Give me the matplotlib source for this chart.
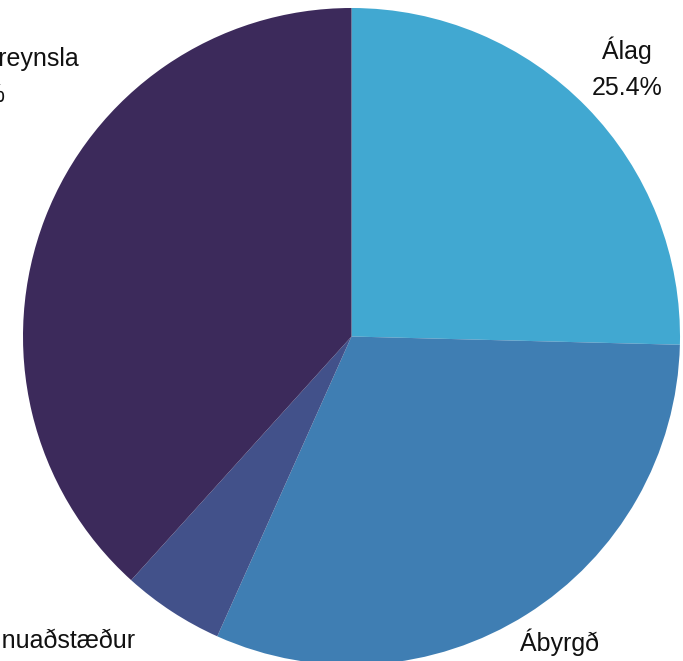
import matplotlib
matplotlib.use("Agg")
import matplotlib.pyplot as plt

# Data
categories = ["Álag", "Ábyrgð", "Vinnuaðstæður", "Menntun og reynsla"]
values = [25.4, 31.3, 5.0, 38.3]
colors = ["#41A8D1", "#3F7EB3", "#42518A", "#3C2A5B"]

# Layout (pixels)
W, H = 683, 661
cx, cy = 351.5, 336.5   # pie centre (from top-left)
R = 328.5               # radius
label_anchor_px = [(627, 59), (559, 651), (51, 648), (-31, 66)]
line_gap_px = 36

plt.rcParams['font.family'] = ['Liberation Sans', 'DejaVu Sans']

fig = plt.figure(figsize=(W / 100, H / 100), dpi=100)
ax = fig.add_axes([0, 0, 1, 1])
ax.pie(values, colors=colors, startangle=90, counterclock=False,
       radius=1.0, center=(0, 0), frame=True,
       wedgeprops=dict(linewidth=0))
ax.set_xlim(-cx / R, (W - cx) / R)
ax.set_ylim(-(H - cy) / R, cy / R)
ax.set_aspect('auto')
ax.axis('off')

for cat, val, (px, py) in zip(categories, values, label_anchor_px):
    xd = (px - cx) / R
    yd = (cy - py) / R
    ax.text(xd, yd, cat, ha='center', va='baseline', fontsize=18,
            color='#111111', clip_on=False)
    ax.text(xd, yd - line_gap_px / R, f"{val:.1f}%", ha='center',
            va='baseline', fontsize=18, color='#111111', clip_on=False)

fig.savefig("out.png", dpi=100)
